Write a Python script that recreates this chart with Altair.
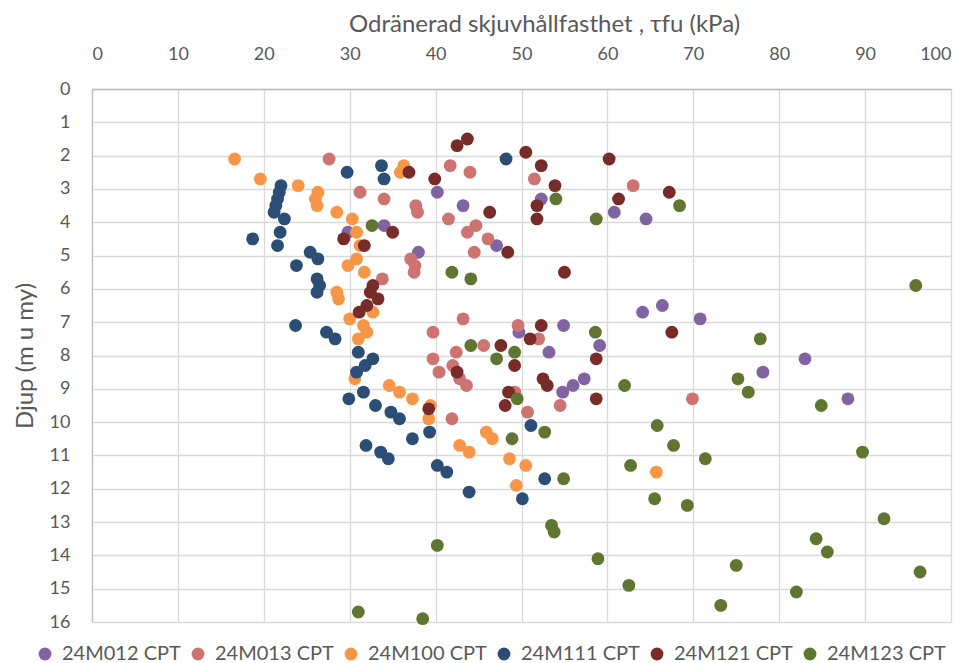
import altair as alt
import pandas as pd

series = ["24M012 CPT", "24M013 CPT", "24M100 CPT", "24M111 CPT", "24M121 CPT", "24M123 CPT"]
colors = ["#8064A2", "#CD7371", "#F79646", "#2C4D75", "#772C2A", "#5F7530"]

m012_tau = [40.2, 52.3, 43.2, 60.8, 64.5, 34.0, 29.8, 47.1, 38.0, 66.4, 64.1, 70.8, 54.9, 49.7, 59.1, 53.2, 83.0, 78.1, 57.3, 56.0, 54.8, 88.0]
m012_depth = [3.1, 3.3, 3.5, 3.7, 3.9, 4.1, 4.3, 4.7, 4.9, 6.5, 6.7, 6.9, 7.1, 7.3, 7.7, 7.9, 8.1, 8.5, 8.7, 8.9, 9.1, 9.3]

m013_tau = [27.6, 41.7, 44.0, 51.5, 63.0, 31.2, 34.0, 37.7, 37.9, 41.5, 44.7, 43.7, 46.1, 44.5, 37.1, 37.6, 37.5, 33.8, 43.2, 49.6, 39.7, 52.0, 45.6, 42.4, 39.7, 42.0, 40.4, 42.8, 43.6, 49.2, 69.9, 54.5, 50.7, 41.9]
m013_depth = [2.1, 2.3, 2.5, 2.7, 2.9, 3.1, 3.3, 3.5, 3.7, 3.9, 4.1, 4.3, 4.5, 4.9, 5.1, 5.3, 5.5, 5.7, 6.9, 7.1, 7.3, 7.5, 7.7, 7.9, 8.1, 8.3, 8.5, 8.7, 8.9, 9.1, 9.3, 9.5, 9.7, 9.9]

m100_tau = [16.6, 36.3, 35.9, 19.6, 24.0, 26.3, 26.0, 26.2, 28.5, 30.3, 30.8, 31.2, 30.8, 29.8, 31.7, 28.5, 28.7, 32.7, 30.0, 31.6, 32.0, 31.0, 30.6, 34.6, 35.8, 37.3, 39.4, 39.2, 45.9, 46.6, 42.8, 43.9, 48.6, 50.5, 65.7, 49.4]
m100_depth = [2.1, 2.3, 2.5, 2.7, 2.9, 3.1, 3.3, 3.5, 3.7, 3.9, 4.3, 4.7, 5.1, 5.3, 5.5, 6.1, 6.3, 6.7, 6.9, 7.1, 7.3, 7.5, 8.7, 8.9, 9.1, 9.3, 9.5, 9.9, 10.3, 10.5, 10.7, 10.9, 11.1, 11.3, 11.5, 11.9]

m111_tau = [48.2, 33.7, 29.7, 34.0, 22.0, 21.8, 21.6, 21.4, 21.2, 22.4, 21.9, 18.7, 21.6, 25.4, 26.3, 23.8, 26.2, 26.5, 26.2, 23.7, 27.3, 28.3, 31.0, 32.7, 31.8, 30.8, 31.6, 29.9, 33.0, 34.8, 35.8, 51.1, 39.3, 37.3, 31.9, 33.6, 34.5, 40.2, 41.3, 52.7, 43.9, 50.1]
m111_depth = [2.1, 2.3, 2.5, 2.7, 2.9, 3.1, 3.3, 3.5, 3.7, 3.9, 4.3, 4.5, 4.7, 4.9, 5.1, 5.3, 5.7, 5.9, 6.1, 7.1, 7.3, 7.5, 7.9, 8.1, 8.3, 8.5, 9.1, 9.3, 9.5, 9.7, 9.9, 10.1, 10.3, 10.5, 10.7, 10.9, 11.1, 11.3, 11.5, 11.7, 12.1, 12.3]

m121_tau = [43.7, 42.5, 50.5, 60.2, 52.3, 36.9, 39.9, 53.9, 67.2, 61.3, 51.8, 46.3, 51.8, 35.0, 29.3, 31.7, 48.4, 55.0, 32.7, 32.4, 33.3, 32.0, 31.1, 52.3, 67.5, 51.0, 47.6, 58.7, 49.2, 42.5, 52.5, 53.0, 48.5, 58.7, 48.1, 39.2]
m121_depth = [1.5, 1.7, 1.9, 2.1, 2.3, 2.5, 2.7, 2.9, 3.1, 3.3, 3.5, 3.7, 3.9, 4.3, 4.5, 4.7, 4.9, 5.5, 5.9, 6.1, 6.3, 6.5, 6.7, 7.1, 7.3, 7.5, 7.7, 8.1, 8.3, 8.5, 8.7, 8.9, 9.1, 9.3, 9.5, 9.6]

m123_tau = [54.0, 68.4, 58.7, 32.6, 41.9, 44.1, 95.9, 58.6, 77.8, 44.1, 49.2, 47.1, 75.2, 62.0, 76.4, 49.5, 84.9, 65.8, 52.7, 48.9, 67.7, 89.7, 71.4, 62.7, 54.9, 65.5, 69.3, 92.2, 53.5, 53.8, 84.3, 40.2, 85.6, 58.9, 75.0, 96.4, 62.5, 82.0, 73.2, 31.0, 38.5]
m123_depth = [3.3, 3.5, 3.9, 4.1, 5.5, 5.7, 5.9, 7.3, 7.5, 7.7, 7.9, 8.1, 8.7, 8.9, 9.1, 9.3, 9.5, 10.1, 10.3, 10.5, 10.7, 10.9, 11.1, 11.3, 11.7, 12.3, 12.5, 12.9, 13.1, 13.3, 13.5, 13.7, 13.9, 14.1, 14.3, 14.5, 14.9, 15.1, 15.5, 15.7, 15.9]

all_tau = [m012_tau, m013_tau, m100_tau, m111_tau, m121_tau, m123_tau]
all_depth = [m012_depth, m013_depth, m100_depth, m111_depth, m121_depth, m123_depth]

rows = []
i = 0
for name, taus, depths in zip(series, all_tau, all_depth, strict=True):
    for t, d in zip(taus, depths, strict=True):
        rows.append({"serie": name, "tau": t, "djup": d, "idx": i})
        i += 1
df = pd.DataFrame(rows)

grey = "#595959"
font = "Lato"

chart = alt.Chart(df).mark_circle(size=165, opacity=1).encode(
    x=alt.X("tau:Q",
            scale=alt.Scale(domain=[0, 100], nice=False),
            axis=alt.Axis(orient="top", values=list(range(0, 101, 10)),
                          title="Odränerad skjuvhållfasthet , τfu (kPa)",
                          ticks=False, labelPadding=26, titlePadding=9,
                          titleX=452, titleAlign="center",
                          labelFontSize=18, titleFontSize=24)),
    y=alt.Y("djup:Q",
            scale=alt.Scale(domain=[0, 16], reverse=True, nice=False),
            axis=alt.Axis(values=list(range(0, 17)), title="Djup (m u my)",
                          ticks=False, labelPadding=22, titlePadding=12,
                          labelFontSize=18, titleFontSize=24)),
    color=alt.Color("serie:N",
                    scale=alt.Scale(domain=series, range=colors),
                    legend=alt.Legend(title=None, orient="none", legendX=-57, legendY=555,
                                      direction="horizontal", columns=6, gridAlign="all",
                                      symbolType="circle", symbolSize=165, symbolOpacity=1,
                                      symbolStrokeWidth=0, labelFontSize=20, labelFont=font,
                                      labelColor=grey, labelOffset=7, columnPadding=7,
                                      labelLimit=300)),
    order=alt.Order("idx:Q"),
).properties(
    width=859, height=533,
    autosize=alt.AutoSizeParams(type="none"),
    padding={"left": 84, "top": 81, "right": 18, "bottom": 45},
).configure_view(stroke=None).configure_axis(
    gridColor="#D9D9D9", gridWidth=1.3, domainColor="#BFBFBF", domainWidth=1.3,
    labelColor=grey, titleColor=grey, labelFont=font, titleFont=font,
    titleFontWeight="normal",
)

chart.save("out.html", embed_options={"renderer": "svg", "actions": False})
